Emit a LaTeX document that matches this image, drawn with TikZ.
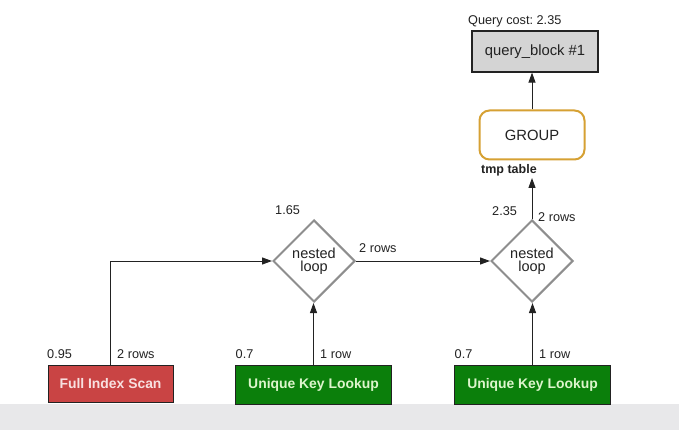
\documentclass[tikz,border=0pt]{standalone}
\usepackage{fontspec}
\setmainfont{Liberation Sans}
\usetikzlibrary{shapes.geometric,arrows.meta}
\frenchspacing
\definecolor{scanred}{HTML}{C94444}
\definecolor{scantext}{HTML}{F8E0E0}
\definecolor{lookgreen}{HTML}{0B7F0B}
\definecolor{looktext}{HTML}{DDF5CC}
\definecolor{gold}{HTML}{D6A133}
\definecolor{band}{HTML}{E8E8EA}
\definecolor{dgray}{HTML}{8E8E8E}
\definecolor{qbfill}{HTML}{D4D4D4}
\definecolor{ink}{HTML}{222222}
\begin{document}
\begin{tikzpicture}[x=1pt,y=-1pt,
 lbl/.style={inner sep=0pt,anchor=west,font=\fontsize{12.7}{14}\selectfont,text=ink},
 op/.style={draw=ink,line width=1pt,inner sep=0pt,font=\bfseries\fontsize{13.9}{16}\selectfont},
 nl/.style={diamond,draw=dgray,line width=2pt,minimum width=82pt,minimum height=82pt,inner sep=0pt,align=center,font=\fontsize{14.5}{13}\selectfont,text=ink},
 conn/.style={-{Triangle[length=10pt,width=7pt]},line width=1pt,draw=ink}]
\useasboundingbox (0,0) rectangle (679,430);
\fill[white] (0,0) rectangle (679,430);
\fill[band] (0,404) rectangle (679,430);

\node[lbl] (cost) at (468,21) {Query cost: 2.35};
\node[draw=ink,fill=qbfill,line width=1.2pt,minimum width=126pt,minimum height=41pt,inner sep=0pt,font=\fontsize{14.8}{16}\selectfont,text=ink] (qb) at (535,51.5) {query\_block \#1};
\node[draw=gold,line width=2pt,rounded corners=10pt,minimum width=105pt,minimum height=49pt,inner sep=0pt,font=\fontsize{14.8}{16}\selectfont,text=ink] (grp) at (532,135) {GROUP};
\node[lbl,font=\bfseries\fontsize{12.5}{14}\selectfont] (tmp) at (481,170) {tmp table};
\coordinate (tmpend) at (532,178);

\node[nl] (nl1) at (314,261) {nested\\loop};
\node[nl] (nl2) at (532,261) {nested\\loop};

\node[lbl] (c1) at (275,210) {1.65};
\node[lbl] (r1) at (359,248) {2 rows};
\node[lbl] (c2) at (492,211) {2.35};
\node[lbl] (r2) at (538,217) {2 rows};

\node[op,fill=scanred,text=scantext,minimum width=125pt,minimum height=37pt] (fis) at (110.5,383.5) {Full Index Scan};
\node[op,fill=lookgreen,text=looktext,minimum width=156pt,minimum height=39pt] (ukl1) at (313.5,384.5) {Unique Key Lookup};
\node[op,fill=lookgreen,text=looktext,minimum width=156pt,minimum height=39pt] (ukl2) at (532.5,384.5) {Unique Key Lookup};

\node[lbl] (c3) at (47,354) {0.95};
\node[lbl] (r3) at (117,354) {2 rows};
\node[lbl] (c4) at (235.5,354) {0.7};
\node[lbl] (r4) at (320,354) {1 row};
\node[lbl] (c5) at (454.5,354) {0.7};
\node[lbl] (r5) at (539,354) {1 row};

\draw[conn] (grp.north) -- (grp.north |- qb.south);
\draw[conn] (nl2.north) -- (tmpend);
\draw[conn] (nl1.east) -- (nl2.west);
\draw[conn] (fis.north) |- (nl1.west);
\draw[conn] (ukl1.north) -- (ukl1.north |- nl1.south);
\draw[conn] (ukl2.north) -- (ukl2.north |- nl2.south);
\end{tikzpicture}
\end{document}
